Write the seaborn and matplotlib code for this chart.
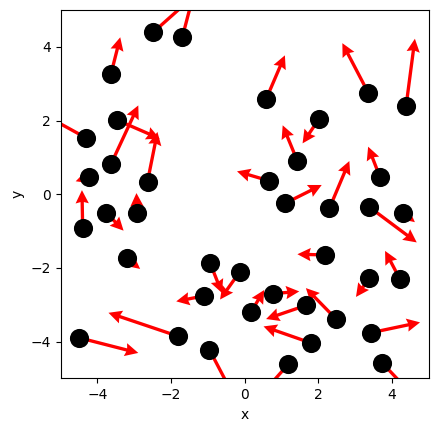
import numpy as np
import pandas as pd
import seaborn as sns
import matplotlib
matplotlib.use("Agg")
import matplotlib.pyplot as plt

# point positions
px = [-2.48, -1.69, -3.63, -3.46, -4.31, -3.63, -4.24, -2.64, -4.40, -3.76,
      -2.92, -3.20, -0.94, -0.13, -1.10, -1.80, -4.49, -0.96, 0.58, 3.35,
      4.38, 2.02, 1.43, 3.67, 0.67, 1.09, 2.30, 3.37, 4.30, 2.18,
      0.76, 0.17, 1.66, 2.48, 1.80, 1.18, 3.38, 4.21, 3.43, 3.73]
py = [4.40, 4.28, 3.27, 2.01, 1.53, 0.82, 0.47, 0.34, -0.92, -0.50,
      -0.52, -1.74, -1.87, -2.10, -2.76, -3.86, -3.90, -4.22, 2.58, 2.76,
      2.39, 2.05, 0.90, 0.47, 0.36, -0.25, -0.38, -0.34, -0.50, -1.65,
      -2.70, -3.20, -3.02, -3.39, -4.04, -4.62, -2.28, -2.30, -3.76, -4.58]
# vector components
vu = [1.20, 0.30, 0.25, 1.15, -1.20, 0.74, -0.35, 0.27, -0.02, 0.47,
      -0.02, 0.36, 0.32, -0.54, -0.76, -1.90, 1.60, 0.68, 0.51, -0.70,
      0.24, -0.45, -0.40, -0.32, -0.88, 1.00, 0.54, 1.30, 0.32, -0.75,
      0.72, 0.36, -1.08, -0.82, -1.29, -0.80, -0.36, -0.40, 1.33, 0.90]
vv = [1.07, 1.15, 0.99, -0.50, 0.66, 1.59, -0.12, 1.35, 1.03, -0.49,
      0.55, -0.29, -0.81, -0.76, -0.15, 0.64, -0.41, -1.30, 1.19, 1.34,
      1.83, -0.67, 0.97, 0.82, 0.26, 0.50, 1.28, -0.97, -0.26, 0.02,
      0.06, 0.60, -0.37, 0.84, 0.45, -0.90, -0.51, 0.76, 0.28, -0.95]

df = pd.DataFrame({"x": px, "y": py, "u": vu, "v": vv})

fig, ax = plt.subplots(figsize=(4.39, 4.32), dpi=100)
fig.subplots_adjust(left=0.138, right=0.977, top=0.978, bottom=0.123)

ax.quiver(df["x"], df["y"], df["u"], df["v"], angles="xy", scale_units="xy",
          scale=1, color="red", width=0.009, headwidth=4, headlength=4,
          headaxislength=3.6, zorder=1)
sns.scatterplot(data=df, x="x", y="y", color="black", s=190, linewidth=0,
                ax=ax, zorder=2)

ax.set_xlim(-5, 5)
ax.set_ylim(-5, 5)
ax.set_aspect("equal")
ax.set_xlabel("x")
ax.set_ylabel("y")

fig.savefig("out.png", dpi=100)
